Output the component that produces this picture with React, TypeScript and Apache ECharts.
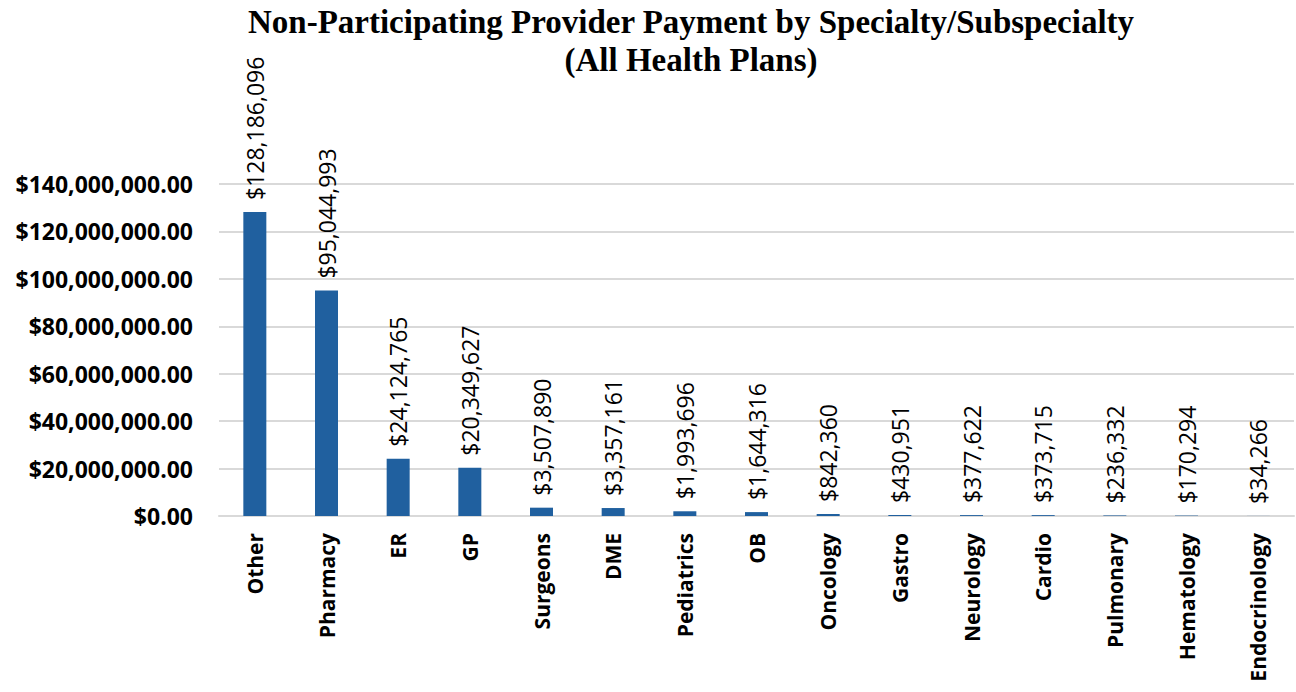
import React, { useEffect, useRef } from "react";
import * as echarts from "echarts";

const titleLines = [
  "Non-Participating Provider Payment by Specialty/Subspecialty",
  "(All Health Plans)",
];

const categories = [
  "Other",
  "Pharmacy",
  "ER",
  "GP",
  "Surgeons",
  "DME",
  "Pediatrics",
  "OB",
  "Oncology",
  "Gastro",
  "Neurology",
  "Cardio",
  "Pulmonary",
  "Hematology",
  "Endocrinology",
];

const payments = [
  128186096, 95044993, 24124765, 20349627, 3507890, 3357161, 1993696, 1644316,
  842360, 430951, 377622, 373715, 236332, 170294, 34266,
];

const yMin = 0;
const yMax = 140000000;
const yInterval = 20000000;

export default function App() {
  const ref = useRef<HTMLDivElement>(null);

  useEffect(() => {
    document.body.style.margin = "0";
    const chart = echarts.init(ref.current!, null, { renderer: "svg" });
    const sans = "'Open Sans', 'Noto Sans', sans-serif";
    chart.setOption({
      animation: false,
      backgroundColor: "#ffffff",
      graphic: [
        {
          type: "text",
          x: 691,
          y: 3,
          style: {
            text: titleLines.join("\n"),
            align: "center",
            verticalAlign: "top",
            fontFamily: "'Liberation Serif', serif",
            fontWeight: "bold",
            fontSize: 33,
            lineHeight: 38,
            fill: "#000000",
          },
        },
      ],
      grid: { left: 219, right: 2, top: 184, bottom: 176, containLabel: false },
      xAxis: {
        type: "category",
        data: categories,
        axisLine: { show: true, lineStyle: { color: "#d9d9d9", width: 2 } },
        axisTick: { show: false },
        axisLabel: {
          rotate: 90,
          interval: 0,
          margin: 17,
          color: "#000000",
          fontFamily: sans,
          fontWeight: "bold",
          fontSize: 21,
        },
      },
      yAxis: {
        type: "value",
        min: yMin,
        max: yMax,
        interval: yInterval,
        axisLine: { show: false },
        axisTick: { show: false },
        splitLine: { lineStyle: { color: "#d9d9d9", width: 2 } },
        axisLabel: {
          margin: 26,
          color: "#000000",
          fontFamily: sans,
          fontWeight: "bold",
          fontSize: 23,
          formatter: (v: number) =>
            "$" +
            v.toLocaleString("en-US", {
              minimumFractionDigits: 2,
              maximumFractionDigits: 2,
            }),
        },
      },
      series: [
        {
          type: "bar",
          data: payments,
          barWidth: 23,
          itemStyle: { color: "#20609f" },
          label: {
            show: true,
            position: "top",
            rotate: 90,
            align: "left",
            verticalAlign: "middle",
            distance: 12,
            color: "#000000",
            fontFamily: sans,
            fontSize: 23,
            formatter: (p: any) => "$" + Number(p.value).toLocaleString("en-US"),
          },
        },
      ],
    });
    return () => chart.dispose();
  }, []);

  return <div ref={ref} style={{ width: 1296, height: 692 }} />;
}
